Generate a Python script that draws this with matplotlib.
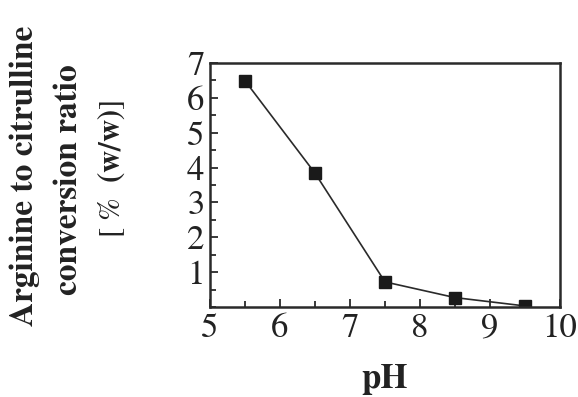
import matplotlib
matplotlib.use("Agg")
import matplotlib.pyplot as plt
from matplotlib.ticker import MultipleLocator, FixedLocator

ph = [5.5, 6.5, 7.5, 8.5, 9.5]
conversion = [6.49, 3.84, 0.72, 0.27, 0.03]
x_ticks = [5, 6, 7, 8, 9, 10]
y_ticks = [1, 2, 3, 4, 5, 6, 7]

plt.rcParams['font.family'] = ['STIXGeneral', 'DejaVu Serif']
plt.rcParams['mathtext.fontset'] = 'stix'

fig = plt.figure(figsize=(5.78, 3.97), dpi=100)
ax = fig.add_axes([210 / 578, 1 - 307 / 397, 350 / 578, 244 / 397])

ink = '#2a2a2a'
ax.plot(ph, conversion, color=ink, lw=1.2, marker='s', ms=8,
        mfc='#1a1a1a', mec='#1a1a1a')

ax.set_xlim(5, 10)
ax.set_ylim(0, 7)
ax.xaxis.set_major_locator(FixedLocator(x_ticks))
ax.yaxis.set_major_locator(FixedLocator(y_ticks))
ax.xaxis.set_minor_locator(MultipleLocator(0.5))
ax.yaxis.set_minor_locator(MultipleLocator(0.5))
ax.tick_params(which='both', direction='in', top=False, right=False,
               color=ink, width=1.3, labelsize=25, labelcolor='#222222')
ax.tick_params(which='major', length=6, pad=4)
ax.tick_params(which='minor', length=4)
for s in ax.spines.values():
    s.set_linewidth(1.8)
    s.set_color(ink)

ax.set_xlabel('pH', fontsize=25, fontweight='bold', color='#222222', labelpad=14)

fig.text(25 / 578, 1 - 176 / 397, 'Arginine to citrulline', rotation=90,
         ha='center', va='center', fontsize=24, fontweight='bold', color='#222222')
fig.text(69 / 578, 1 - 180 / 397, 'conversion ratio', rotation=90,
         ha='center', va='center', fontsize=24, fontweight='bold', color='#222222')
fig.text(111 / 578, 1 - 169 / 397, r'[ %  $\mathbf{(w/w)}$]', rotation=90,
         ha='center', va='center', fontsize=22, color='#222222')

fig.savefig('out.png', dpi=100)
